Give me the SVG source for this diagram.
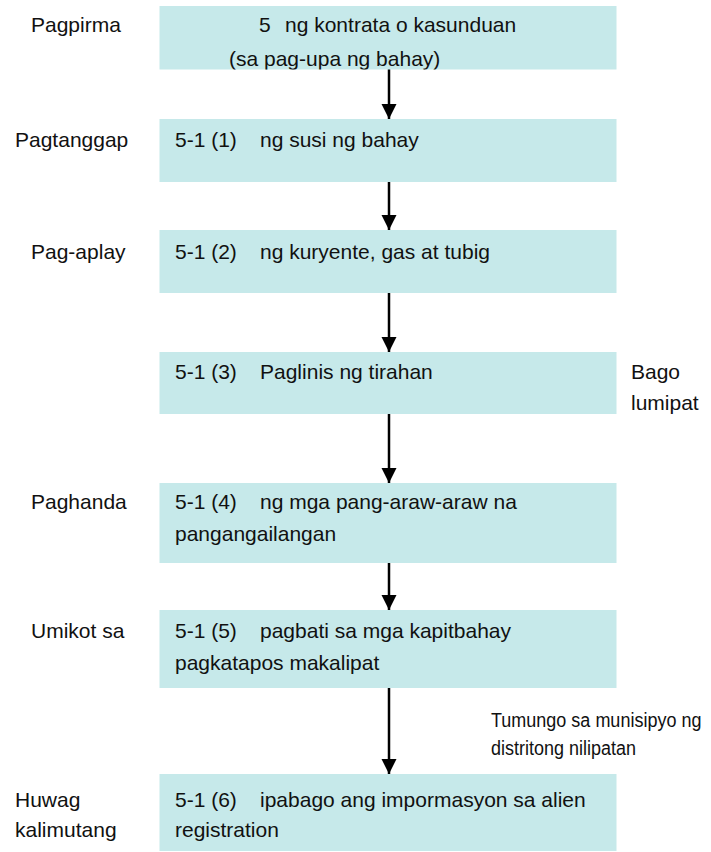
<svg xmlns="http://www.w3.org/2000/svg" width="711" height="852" viewBox="0 0 711 852">
<style>
text{font-family:"Liberation Sans",Arial,sans-serif;font-size:21px;fill:#111}
.box{fill:#c6e9ea}
.note{font-size:18px}
.arr{stroke:#000;stroke-width:2.5;fill:none;marker-end:url(#ah)}
</style>
<defs>
<marker id="ah" markerUnits="userSpaceOnUse" markerWidth="15" markerHeight="16" refX="15" refY="7.5" orient="auto" viewBox="0 0 15 15">
<path d="M0,0 L15,7.5 L0,15 z" fill="#000"/>
</marker>
<clipPath id="c1"><rect x="159.5" y="6" width="457" height="63.5"/></clipPath>
</defs>
<rect width="711" height="852" fill="#fff"/>
<g id="connectors">
<line class="arr" x1="389" y1="69" x2="389" y2="119"/>
<line class="arr" x1="389" y1="182" x2="389" y2="230"/>
<line class="arr" x1="389" y1="293" x2="389" y2="352"/>
<line class="arr" x1="389" y1="414" x2="389" y2="483"/>
<line class="arr" x1="389" y1="563" x2="389" y2="610"/>
<line class="arr" x1="389" y1="688" x2="389" y2="774"/>
</g>
<g id="n1">
<rect class="box" x="159.5" y="6" width="457" height="63.5"/>
<text x="259" y="32">5</text>
<text x="285" y="32">ng kontrata o kasunduan</text>
<text x="229" y="65.5" clip-path="url(#c1)">(sa pag-upa ng bahay)</text>
<text x="31" y="32">Pagpirma</text>
</g>
<g id="n2">
<rect class="box" x="159.5" y="119" width="457" height="63"/>
<text x="175" y="147">5-1 (1)</text>
<text x="260" y="147">ng susi ng bahay</text>
<text x="15" y="147">Pagtanggap</text>
</g>
<g id="n3">
<rect class="box" x="159.5" y="230" width="457" height="63"/>
<text x="175" y="259">5-1 (2)</text>
<text x="260" y="259">ng kuryente, gas at tubig</text>
<text x="31" y="259">Pag-aplay</text>
</g>
<g id="n4">
<rect class="box" x="159.5" y="352" width="457" height="62"/>
<text x="175" y="379">5-1 (3)</text>
<text x="260" y="379">Paglinis ng tirahan</text>
<text x="631" y="379">Bago</text>
<text x="631" y="410">lumipat</text>
</g>
<g id="n5">
<rect class="box" x="159.5" y="483" width="457" height="80"/>
<text x="175" y="509">5-1 (4)</text>
<text x="260" y="509">ng mga pang-araw-araw na</text>
<text x="175" y="541">pangangailangan</text>
<text x="31" y="509">Paghanda</text>
</g>
<g id="n6">
<rect class="box" x="159.5" y="610" width="457" height="78"/>
<text x="175" y="638">5-1 (5)</text>
<text x="260" y="638">pagbati sa mga kapitbahay</text>
<text x="175" y="670">pagkatapos makalipat</text>
<text x="31" y="638">Umikot sa</text>
</g>
<g id="n7">
<rect class="box" x="159.5" y="774" width="457" height="77"/>
<text x="175" y="807">5-1 (6)</text>
<text x="260" y="807">ipabago ang impormasyon sa alien</text>
<text x="175" y="837">registration</text>
<text x="15" y="807">Huwag</text>
<text x="15" y="837">kalimutang</text>
</g>
<g id="label-tumungo">
<text class="note" transform="translate(491,727) scale(1,1.12)">Tumungo sa munisipyo ng</text>
<text class="note" transform="translate(491,755) scale(1,1.12)">distritong nilipatan</text>
</g>
</svg>
